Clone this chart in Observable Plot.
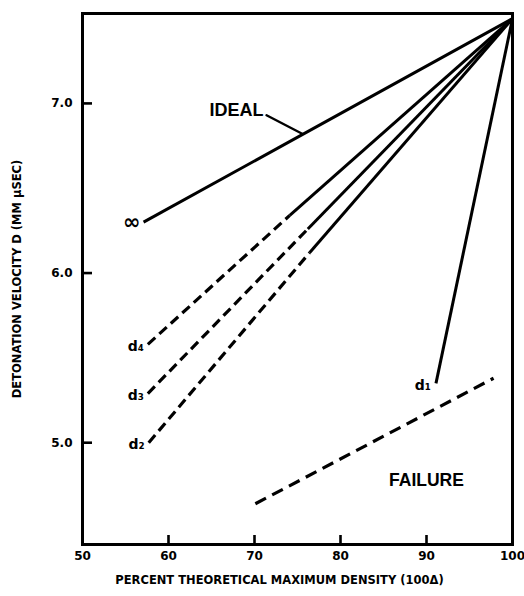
<!DOCTYPE html>
<html>
<head>
<meta charset="utf-8">
<script src="https://cdn.jsdelivr.net/npm/d3@7"></script>
<script src="https://cdn.jsdelivr.net/npm/@observablehq/plot@0.6"></script>
<style>
  html, body { margin: 0; padding: 0; background: #fff; }
  svg { display: block; }
</style>
</head>
<body>
<div id="chart"></div>
<script>
// ---- data ----
const xTicks = [50, 60, 70, 80, 90, 100];
const yTicks = [5.0, 6.0, 7.0];
const xDomain = [50, 100];
const yDomain = [4.4, 7.53];

// curves converge at (100, 7.5)
const seriesNames  = ["ideal", "d4", "d3", "d2", "d1"];
const seriesLabels = ["\u221E", "d\u2084", "d\u2083", "d\u2082", "d\u2081"];
const startX       = [57.1, 57.6, 57.6, 57.7, 91.1];
const startY       = [6.30, 5.58, 5.29, 5.00, 5.35];
const solidFromX   = [57.1, 74.1, 76.2, 76.4, 91.1];
const solidFromY   = [6.30, 6.34, 6.26, 6.12, 5.35];
const endX = 100;
const endY = 7.5;

// failure boundary (dashed)
const failureX = [70.1, 97.8];
const failureY = [4.64, 5.38];

// annotations
const idealText = "IDEAL";
const idealLeaderX = [71.4, 75.6];
const idealLeaderY = [6.93, 6.82];
const failureText = "FAILURE";
const failureTextX = 90.0;
const failureTextY = 4.78;

const xLabel = "PERCENT THEORETICAL MAXIMUM DENSITY (100\u0394)";
const yLabel = "DETONATION VELOCITY D (MM \u03BCSEC)";

// ---- build tables ----
const dashed = [];
const solid = [];
seriesNames.forEach((s, i) => {
  if (solidFromX[i] !== startX[i]) {
    dashed.push({s, x: startX[i], y: startY[i]});
    dashed.push({s, x: solidFromX[i], y: solidFromY[i]});
  }
  solid.push({s, x: solidFromX[i], y: solidFromY[i]});
  solid.push({s, x: endX, y: endY});
});
const starts = seriesNames.map((s, i) => ({s, label: seriesLabels[i], x: startX[i], y: startY[i]}));
const failure = failureX.map((x, i) => ({x, y: failureY[i]}));
const leader = idealLeaderX.map((x, i) => ({x, y: idealLeaderY[i]}));

const W = 524, H = 596;
const mL = 82, mR = 12, mT = 13, mB = 52;
const frameW = W - mL - mR, frameH = H - mT - mB;
const font = "DejaVu Sans, sans-serif";
const boldLabel = "Liberation Sans, Arial, sans-serif";

const chart = Plot.plot({
  width: W,
  height: H,
  marginLeft: mL,
  marginRight: mR,
  marginTop: mT,
  marginBottom: mB,
  style: {background: "#fff", color: "#000", fontFamily: font},
  x: {domain: xDomain},
  y: {domain: yDomain},
  marks: [
    Plot.frame({stroke: "#000", strokeWidth: 3}),
    // inward ticks
    Plot.ruleX(xTicks.slice(1, -1), {x: d => d, stroke: "#000", strokeWidth: 2.6, insetTop: frameH - 9}),
    Plot.ruleY(yTicks, {y: d => d, stroke: "#000", strokeWidth: 2.6, insetRight: frameW - 10}),
    Plot.axisX({ticks: xTicks, tickSize: 0, tickPadding: 7, tickFormat: d => String(d), label: null,
      fontSize: 12, fontWeight: "bold", fontFamily: font}),
    Plot.axisY({ticks: yTicks, tickSize: 0, tickPadding: 10, tickFormat: d => d.toFixed(1), label: null,
      fontSize: 12, fontWeight: "bold", fontFamily: font}),
    // curves
    Plot.line(dashed, {x: "x", y: "y", z: "s", stroke: "#000", strokeWidth: 3.2,
      strokeDasharray: "10,5.5", strokeLinecap: "butt"}),
    Plot.line(solid, {x: "x", y: "y", z: "s", stroke: "#000", strokeWidth: 3, strokeLinecap: "butt"}),
    Plot.line(failure, {x: "x", y: "y", stroke: "#000", strokeWidth: 3.2,
      strokeDasharray: "12,7", strokeLinecap: "butt"}),
    Plot.line(leader, {x: "x", y: "y", stroke: "#000", strokeWidth: 2.4}),
    // labels
    Plot.text(starts.filter(d => d.s === "ideal"), {x: "x", y: "y", text: "label", textAnchor: "end", dx: -3, dy: 0,
      fontSize: 21, fontWeight: "bold", fontFamily: font}),
    Plot.text(starts.filter(d => d.s !== "ideal" && d.s !== "d1"), {x: "x", y: "y", text: "label", textAnchor: "end", dx: -4, dy: 2,
      fontSize: 14, fontWeight: "bold", fontFamily: font}),
    Plot.text(starts.filter(d => d.s === "d1"), {x: "x", y: "y", text: "label", textAnchor: "end", dx: -5, dy: 2,
      fontSize: 14, fontWeight: "bold", fontFamily: font}),
    Plot.text([idealText], {x: () => idealLeaderX[0], y: () => idealLeaderY[0], text: d => d, textAnchor: "end",
      dx: -3, dy: -5, fontSize: 18, fontWeight: "bold", fontFamily: boldLabel}),
    Plot.text([failureText], {x: () => failureTextX, y: () => failureTextY, text: d => d,
      fontSize: 17.5, fontWeight: "bold", fontFamily: boldLabel}),
    // axis titles
    Plot.text([xLabel], {frameAnchor: "bottom", textAnchor: "middle", lineAnchor: "middle", dx: -18, dy: 36, text: d => d,
      fontSize: 11.5, fontWeight: "bold", fontFamily: font}),
    Plot.text([yLabel], {frameAnchor: "left", textAnchor: "middle", lineAnchor: "middle", dx: -65, rotate: -90, text: d => d,
      fontSize: 11.5, fontWeight: "bold", fontFamily: font})
  ]
});
document.getElementById("chart").appendChild(chart);
</script>
</body>
</html>
